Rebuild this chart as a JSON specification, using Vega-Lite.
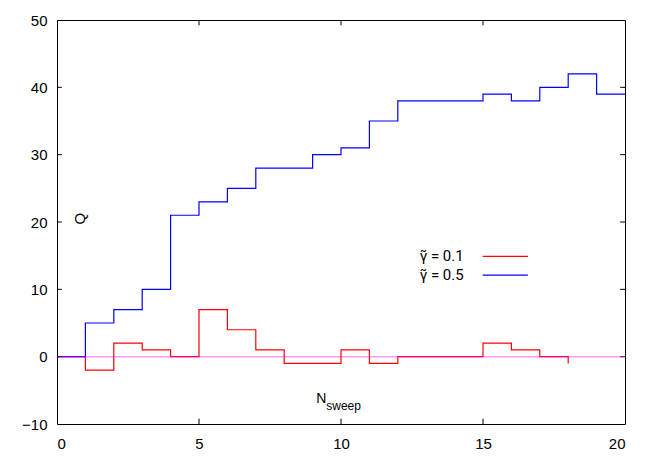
{
  "$schema": "https://vega.github.io/schema/vega-lite/v6.json",
  "width": 568,
  "height": 404,
  "autosize": {"type": "none"},
  "padding": {"left": 57, "top": 20, "right": 28, "bottom": 33},
  "config": {
    "view": {"stroke": "black", "strokeWidth": 1},
    "font": "Liberation Sans",
    "axis": {"grid": false, "domain": false, "ticks": false, "labelColor": "black", "labelFontSize": 15, "labelFont": "Liberation Sans", "titleColor": "black"}
  },
  "datasets": {
    "steps": [
      {"series": "g01", "x": 0, "q": 0}, {"series": "g01", "x": 1, "q": -2}, {"series": "g01", "x": 2, "q": 2},
      {"series": "g01", "x": 3, "q": 1}, {"series": "g01", "x": 4, "q": 0}, {"series": "g01", "x": 5, "q": 7},
      {"series": "g01", "x": 6, "q": 4}, {"series": "g01", "x": 7, "q": 1}, {"series": "g01", "x": 8, "q": -1},
      {"series": "g01", "x": 9, "q": -1}, {"series": "g01", "x": 10, "q": 1}, {"series": "g01", "x": 11, "q": -1},
      {"series": "g01", "x": 12, "q": 0}, {"series": "g01", "x": 13, "q": 0}, {"series": "g01", "x": 14, "q": 0},
      {"series": "g01", "x": 15, "q": 2}, {"series": "g01", "x": 16, "q": 1}, {"series": "g01", "x": 17, "q": 0},
      {"series": "g01", "x": 18, "q": -1},
      {"series": "g05", "x": 0, "q": 0}, {"series": "g05", "x": 1, "q": 5}, {"series": "g05", "x": 2, "q": 7},
      {"series": "g05", "x": 3, "q": 10}, {"series": "g05", "x": 4, "q": 21}, {"series": "g05", "x": 5, "q": 23},
      {"series": "g05", "x": 6, "q": 25}, {"series": "g05", "x": 7, "q": 28}, {"series": "g05", "x": 8, "q": 28},
      {"series": "g05", "x": 9, "q": 30}, {"series": "g05", "x": 10, "q": 31}, {"series": "g05", "x": 11, "q": 35},
      {"series": "g05", "x": 12, "q": 38}, {"series": "g05", "x": 13, "q": 38}, {"series": "g05", "x": 14, "q": 38},
      {"series": "g05", "x": 15, "q": 39}, {"series": "g05", "x": 16, "q": 38}, {"series": "g05", "x": 17, "q": 40},
      {"series": "g05", "x": 18, "q": 42}, {"series": "g05", "x": 19, "q": 39}, {"series": "g05", "x": 20, "q": 39}
    ],
    "zero": [{"x": 0, "x2": 20, "q": 0}],
    "xticks": [
      {"x": 5, "q": -10, "q2": -9.2}, {"x": 10, "q": -10, "q2": -9.2}, {"x": 15, "q": -10, "q2": -9.2},
      {"x": 5, "q": 50, "q2": 49.2}, {"x": 10, "q": 50, "q2": 49.2}, {"x": 15, "q": 50, "q2": 49.2}
    ],
    "yticks": [
      {"x": 0, "x2": 0.17, "q": 0}, {"x": 0, "x2": 0.17, "q": 10}, {"x": 0, "x2": 0.17, "q": 20}, {"x": 0, "x2": 0.17, "q": 30}, {"x": 0, "x2": 0.17, "q": 40},
      {"x": 20, "x2": 19.83, "q": 0}, {"x": 20, "x2": 19.83, "q": 10}, {"x": 20, "x2": 19.83, "q": 20}, {"x": 20, "x2": 19.83, "q": 30}, {"x": 20, "x2": 19.83, "q": 40}
    ],
    "legend": [
      {"series": "g01", "label": "γ̃ = 0.1", "tx": 14.32, "x": 14.99, "x2": 16.58, "q": 14.9},
      {"series": "g05", "label": "γ̃ = 0.5", "tx": 14.32, "x": 14.99, "x2": 16.58, "q": 12.1}
    ],
    "ylab": [{"label": "Q", "x": 0.8, "q": 20.5}],
    "xlabN": [{"label": "N", "x": 9.13, "q": -6.3}],
    "xlabS": [{"label": "sweep", "x": 9.48, "q": -7.3}]
  },
  "layer": [
    {
      "data": {"name": "steps"},
      "mark": {"type": "line", "interpolate": "step-after", "strokeWidth": 1.2},
      "encoding": {
        "x": {"field": "x", "type": "quantitative", "scale": {"domain": [0, 20], "nice": false}, "axis": {"values": [0, 5, 10, 15, 20], "title": null, "labelPadding": 12, "orient": "bottom"}},
        "y": {"field": "q", "type": "quantitative", "scale": {"domain": [-10, 50], "nice": false, "zero": false}, "axis": {"values": [-10, 0, 10, 20, 30, 40, 50], "title": null, "labelPadding": 10, "orient": "left"}},
        "color": {"field": "series", "type": "nominal", "scale": {"domain": ["g01", "g05"], "range": ["#ff0000", "#0000ff"]}, "legend": null},
        "detail": {"field": "series"}
      }
    },
    {
      "data": {"name": "xticks"},
      "mark": {"type": "rule", "strokeWidth": 1, "color": "black"},
      "encoding": {
        "x": {"field": "x", "type": "quantitative"},
        "y": {"field": "q", "type": "quantitative"},
        "y2": {"field": "q2"}
      }
    },
    {
      "data": {"name": "yticks"},
      "mark": {"type": "rule", "strokeWidth": 1, "color": "black"},
      "encoding": {
        "x": {"field": "x", "type": "quantitative"},
        "x2": {"field": "x2"},
        "y": {"field": "q", "type": "quantitative"}
      }
    },
    {
      "data": {"name": "zero"},
      "mark": {"type": "rule", "color": "#ff00ff", "opacity": 0.4, "strokeWidth": 1.5},
      "encoding": {
        "x": {"field": "x", "type": "quantitative"},
        "x2": {"field": "x2"},
        "y": {"field": "q", "type": "quantitative"}
      }
    },
    {
      "data": {"name": "legend"},
      "mark": {"type": "rule", "strokeWidth": 1.2},
      "encoding": {
        "x": {"field": "x", "type": "quantitative"},
        "x2": {"field": "x2"},
        "y": {"field": "q", "type": "quantitative"},
        "color": {"field": "series", "type": "nominal", "scale": {"domain": ["g01", "g05"], "range": ["#ff0000", "#0000ff"]}, "legend": null}
      }
    },
    {
      "data": {"name": "legend"},
      "mark": {"type": "text", "align": "right", "baseline": "middle", "fontSize": 15, "font": "Roboto", "color": "black"},
      "encoding": {
        "x": {"field": "tx", "type": "quantitative"},
        "y": {"field": "q", "type": "quantitative"},
        "text": {"field": "label"}
      }
    },
    {
      "data": {"name": "ylab"},
      "mark": {"type": "text", "align": "center", "baseline": "middle", "fontSize": 15, "angle": 270, "color": "black"},
      "encoding": {
        "x": {"field": "x", "type": "quantitative"},
        "y": {"field": "q", "type": "quantitative"},
        "text": {"field": "label"}
      }
    },
    {
      "data": {"name": "xlabN"},
      "mark": {"type": "text", "align": "left", "baseline": "middle", "fontSize": 14, "color": "black"},
      "encoding": {
        "x": {"field": "x", "type": "quantitative"},
        "y": {"field": "q", "type": "quantitative"},
        "text": {"field": "label"}
      }
    },
    {
      "data": {"name": "xlabS"},
      "mark": {"type": "text", "align": "left", "baseline": "middle", "fontSize": 12, "color": "black"},
      "encoding": {
        "x": {"field": "x", "type": "quantitative"},
        "y": {"field": "q", "type": "quantitative"},
        "text": {"field": "label"}
      }
    }
  ]
}
